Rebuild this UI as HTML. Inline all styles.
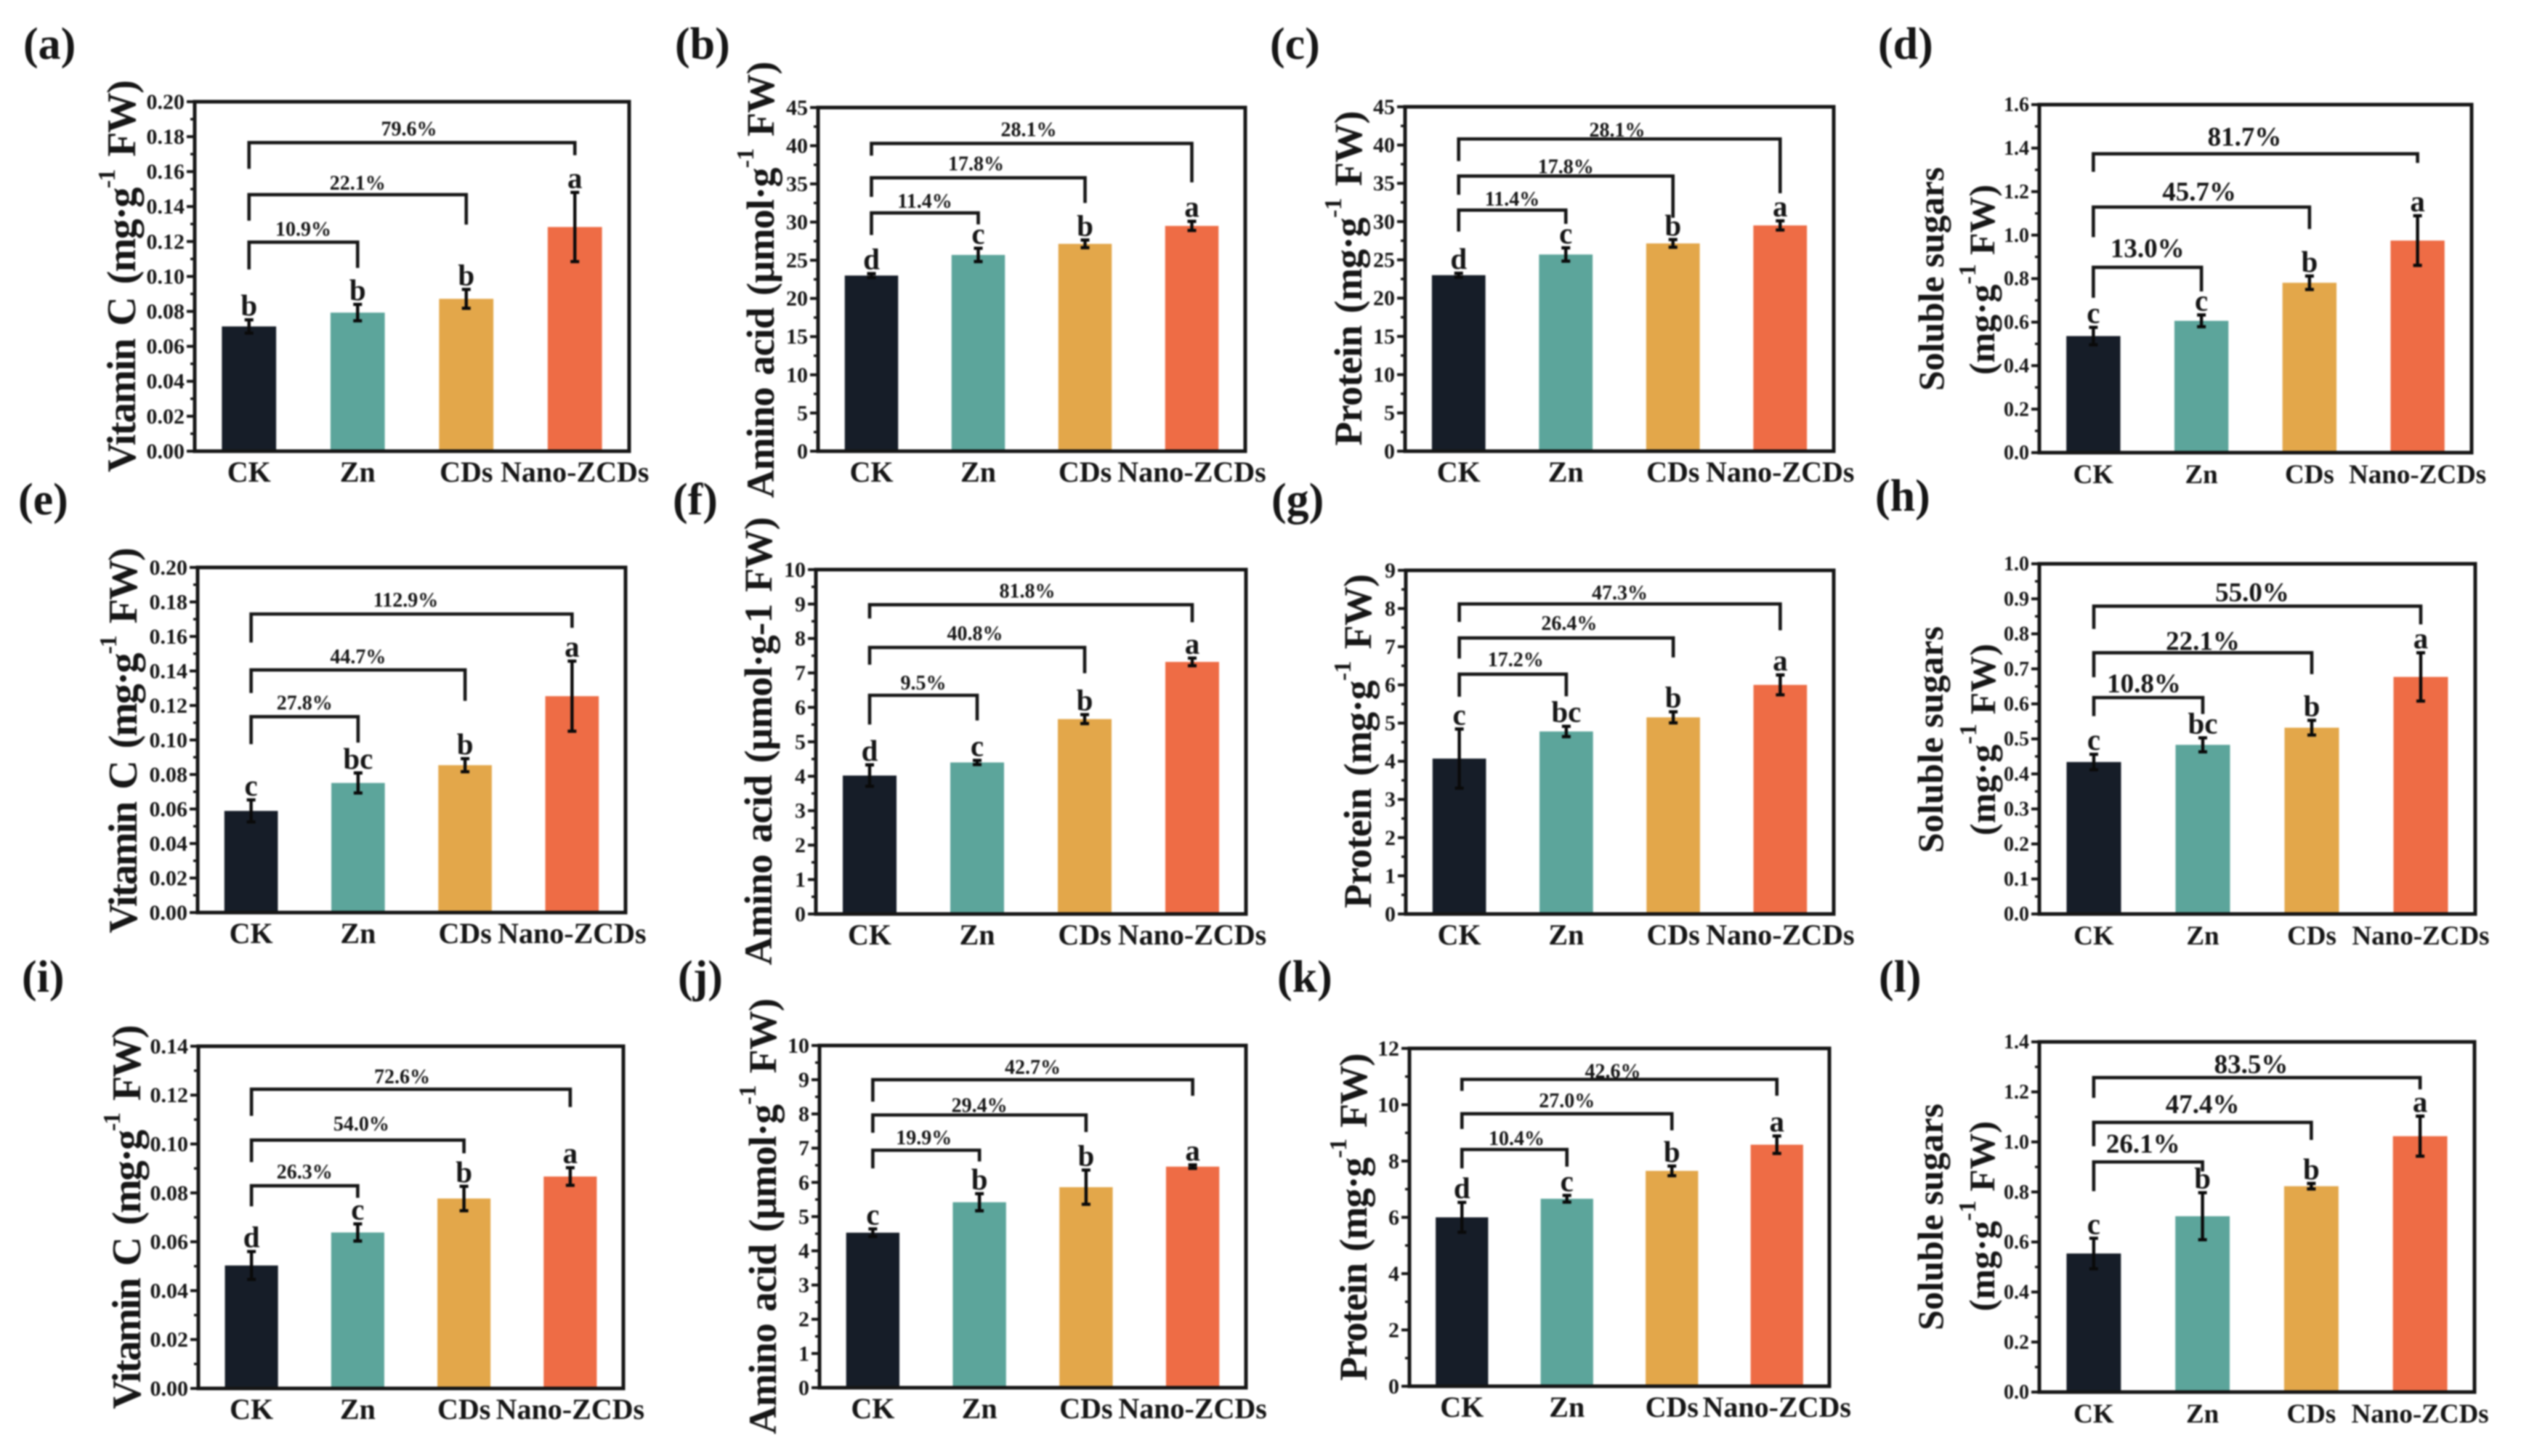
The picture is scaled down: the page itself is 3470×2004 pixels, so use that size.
<!DOCTYPE html>
<html lang="en">
<head>
<meta charset="utf-8">
<title>Vitamin C, amino acid, protein and soluble sugars</title>
<style>
html,body{margin:0;padding:0;background:#fff;width:3470px;height:2004px;overflow:hidden}
svg{display:block;filter:blur(1.1px)}
text{font-family:"Liberation Serif",serif;font-weight:bold;fill:#161616}
.panel-label{font-size:62px}
.t56{font-size:56px;word-spacing:6px}
.t54{font-size:54px;word-spacing:4px}
.t50{font-size:50px}
.sup{font-size:34px}
</style>
</head>
<body>
<svg id="figure" xmlns="http://www.w3.org/2000/svg" width="3470" height="2004" viewBox="0 0 3470 2004">
<rect width="3470" height="2004" fill="#fff"/>

<g id="panel-a">
<text class="panel-label" x="32" y="81">(a)</text>
<text class="t56" transform="translate(186,380) rotate(-90)" text-anchor="middle" textLength="540" lengthAdjust="spacing">Vitamin C (mg·g<tspan class="sup" dy="-28">-1</tspan><tspan dy="28"> FW)</tspan></text>
</g>
<g id="panel-b">
<text class="panel-label" x="929" y="81">(b)</text>
<text class="t54" transform="translate(1065,385) rotate(-90)" text-anchor="middle" textLength="601" lengthAdjust="spacing">Amino acid (µmol·g<tspan class="sup" dy="-28">-1</tspan><tspan dy="28"> FW)</tspan></text>
</g>
<g id="panel-c">
<text class="panel-label" x="1748" y="81">(c)</text>
<text class="t54" transform="translate(1874,383) rotate(-90)" text-anchor="middle" textLength="461" lengthAdjust="spacing">Protein (mg·g<tspan class="sup" dy="-28">-1</tspan><tspan dy="28"> FW)</tspan></text>
</g>
<g id="panel-d">
<text class="panel-label" x="2585" y="81">(d)</text>
<text class="t50" transform="translate(2675,384) rotate(-90)" text-anchor="middle" textLength="308" lengthAdjust="spacing">Soluble sugars</text>
<text class="t50" transform="translate(2745,385) rotate(-90)" text-anchor="middle" textLength="262" lengthAdjust="spacing">(mg·g<tspan class="sup" dy="-26">-1</tspan><tspan dy="26"> FW)</tspan></text>
</g>
<g id="panel-e">
<text class="panel-label" x="25" y="708">(e)</text>
<text class="t56" transform="translate(188,1019) rotate(-90)" text-anchor="middle" textLength="531" lengthAdjust="spacing">Vitamin C (mg·g<tspan class="sup" dy="-28">-1</tspan><tspan dy="28"> FW)</tspan></text>
</g>
<g id="panel-f">
<text class="panel-label" x="926" y="708">(f)</text>
<text class="t54" transform="translate(1062,1020) rotate(-90)" text-anchor="middle" textLength="617" lengthAdjust="spacing">Amino acid (µmol·g-1 FW)</text>
</g>
<g id="panel-g">
<text class="panel-label" x="1750" y="708">(g)</text>
<text class="t54" transform="translate(1887,1020) rotate(-90)" text-anchor="middle" textLength="460" lengthAdjust="spacing">Protein (mg·g<tspan class="sup" dy="-28">-1</tspan><tspan dy="28"> FW)</tspan></text>
</g>
<g id="panel-h">
<text class="panel-label" x="2581" y="703">(h)</text>
<text class="t50" transform="translate(2674,1018) rotate(-90)" text-anchor="middle" textLength="312" lengthAdjust="spacing">Soluble sugars</text>
<text class="t50" transform="translate(2746,1018) rotate(-90)" text-anchor="middle" textLength="264" lengthAdjust="spacing">(mg·g<tspan class="sup" dy="-26">-1</tspan><tspan dy="26"> FW)</tspan></text>
</g>
<g id="panel-i">
<text class="panel-label" x="30" y="1365">(i)</text>
<text class="t56" transform="translate(193,1675) rotate(-90)" text-anchor="middle" textLength="529" lengthAdjust="spacing">Vitamin C (mg·g<tspan class="sup" dy="-28">-1</tspan><tspan dy="28"> FW)</tspan></text>
</g>
<g id="panel-j">
<text class="panel-label" x="933" y="1365">(j)</text>
<text class="t54" transform="translate(1068,1674) rotate(-90)" text-anchor="middle" textLength="600" lengthAdjust="spacing">Amino acid (µmol·g<tspan class="sup" dy="-28">-1</tspan><tspan dy="28"> FW)</tspan></text>
</g>
<g id="panel-k">
<text class="panel-label" x="1758" y="1365">(k)</text>
<text class="t54" transform="translate(1881,1675) rotate(-90)" text-anchor="middle" textLength="451" lengthAdjust="spacing">Protein (mg·g<tspan class="sup" dy="-28">-1</tspan><tspan dy="28"> FW)</tspan></text>
</g>
<g id="panel-l">
<text class="panel-label" x="2586" y="1365">(l)</text>
<text class="t50" transform="translate(2674,1675) rotate(-90)" text-anchor="middle" textLength="312" lengthAdjust="spacing">Soluble sugars</text>
<text class="t50" transform="translate(2745,1674) rotate(-90)" text-anchor="middle" textLength="262" lengthAdjust="spacing">(mg·g<tspan class="sup" dy="-26">-1</tspan><tspan dy="26"> FW)</tspan></text>
</g>
</svg>

<script>
// ---- shared categories ----
const categories = ["CK", "Zn", "CDs", "Nano-ZCDs"];

// ---- panel (a) ----
const aTicks = ["0.00","0.02","0.04","0.06","0.08","0.10","0.12","0.14","0.16","0.18","0.20"];
const aValues = [0.0714, 0.0793, 0.0872, 0.1283];
const aErrors = [0.0038, 0.0047, 0.0054, 0.0198];
const aLetters = ["b","b","b","a"];
const aPercents = ["10.9%","22.1%","79.6%"];
const aBracketTop = [0.1196, 0.1468, 0.1766];
const aBracketLeft = [0.1040, 0.1319, 0.1616];
const aBracketRight = [0.1049, 0.1297, 0.1694];

// ---- panel (b) ----
const bTicks = ["0","5","10","15","20","25","30","35","40","45"];
const bValues = [23.0, 25.7, 27.15, 29.5];
const bErrors = [0.25, 0.87, 0.5, 0.6];
const bLetters = ["d","c","b","a"];
const bPercents = ["11.4%","17.8%","28.1%"];
const bBracketTop = [31.2, 35.8, 40.3];
const bBracketLeft = [28.3, 33.3, 38.7];
const bBracketRight = [29.7, 32.5, 35.2];

// ---- panel (c) ----
const cTicks = ["0","5","10","15","20","25","30","35","40","45"];
const cValues = [23.0, 25.7, 27.15, 29.5];
const cErrors = [0.25, 0.87, 0.5, 0.6];
const cLetters = ["d","c","b","a"];
const cPercents = ["11.4%","17.8%","28.1%"];
const cBracketTop = [31.5, 35.95, 40.8];
const cBracketLeft = [28.7, 33.5, 37.9];
const cBracketRight = [29.7, 30.5, 33.7];

// ---- panel (d) ----
const dTicks = ["0.0","0.2","0.4","0.6","0.8","1.0","1.2","1.4","1.6"];
const dValues = [0.536, 0.606, 0.781, 0.975];
const dErrors = [0.04, 0.027, 0.031, 0.114];
const dLetters = ["c","c","b","a"];
const dPercents = ["13.0%","45.7%","81.7%"];
const dBracketTop = [0.852, 1.129, 1.374];
const dBracketLeft = [0.712, 0.991, 1.291];
const dBracketRight = [0.741, 1.028, 1.332];

// ---- panel (e) ----
const eTicks = ["0.00","0.02","0.04","0.06","0.08","0.10","0.12","0.14","0.16","0.18","0.20"];
const eValues = [0.0589, 0.0751, 0.0854, 0.1254];
const eErrors = [0.0064, 0.0058, 0.0038, 0.0203];
const eLetters = ["c","bc","b","a"];
const ePercents = ["27.8%","44.7%","112.9%"];
const eBracketTop = [0.1135, 0.1406, 0.173];
const eBracketLeft = [0.0976, 0.1272, 0.1565];
const eBracketRight = [0.0985, 0.1227, 0.165];

// ---- panel (f) ----
const fTicks = ["0","1","2","3","4","5","6","7","8","9","10"];
const fValues = [4.02, 4.40, 5.66, 7.32];
const fErrors = [0.31, 0.06, 0.13, 0.11];
const fLetters = ["d","c","b","a"];
const fPercents = ["9.5%","40.8%","81.8%"];
const fBracketTop = [6.35, 7.74, 8.98];
const fBracketLeft = [5.50, 7.24, 8.58];
const fBracketRight = [5.62, 6.99, 8.47];

// ---- panel (g) ----
const gTicks = ["0","1","2","3","4","5","6","7","8","9"];
const gValues = [4.07, 4.78, 5.15, 6.0];
const gErrors = [0.775, 0.135, 0.145, 0.26];
const gLetters = ["c","bc","b","a"];
const gPercents = ["17.2%","26.4%","47.3%"];
const gBracketTop = [6.28, 7.23, 8.12];
const gBracketLeft = [5.69, 6.69, 7.65];
const gBracketRight = [5.70, 6.72, 7.43];

// ---- panel (h) ----
const hTicks = ["0.0","0.1","0.2","0.3","0.4","0.5","0.6","0.7","0.8","0.9","1.0"];
const hValues = [0.434, 0.483, 0.532, 0.677];
const hErrors = [0.022, 0.02, 0.021, 0.069];
const hLetters = ["c","bc","b","a"];
const hPercents = ["10.8%","22.1%","55.0%"];
const hBracketTop = [0.618, 0.746, 0.879];
const hBracketLeft = [0.565, 0.676, 0.814];
const hBracketRight = [0.571, 0.685, 0.827];

// ---- panel (i) ----
const iTicks = ["0.00","0.02","0.04","0.06","0.08","0.10","0.12","0.14"];
const iValues = [0.0503, 0.0638, 0.0777, 0.0867];
const iErrors = [0.0057, 0.0035, 0.005, 0.0036];
const iLetters = ["d","c","b","a"];
const iPercents = ["26.3%","54.0%","72.6%"];
const iBracketTop = [0.0829, 0.1016, 0.1224];
const iBracketLeft = [0.0745, 0.0926, 0.1115];
const iBracketRight = [0.078, 0.0962, 0.1151];

// ---- panel (j) ----
const jTicks = ["0","1","2","3","4","5","6","7","8","9","10"];
const jValues = [4.53, 5.42, 5.86, 6.46];
const jErrors = [0.11, 0.25, 0.5, 0.05];
const jLetters = ["c","b","b","a"];
const jPercents = ["19.9%","29.4%","42.7%"];
const jBracketTop = [6.94, 7.97, 9.0];
const jBracketLeft = [6.41, 7.45, 8.36];
const jBracketRight = [6.61, 7.47, 8.53];

// ---- panel (k) ----
const kTicks = ["0","2","4","6","8","10","12"];
const kValues = [6.0, 6.66, 7.65, 8.58];
const kErrors = [0.53, 0.12, 0.17, 0.31];
const kLetters = ["d","c","b","a"];
const kPercents = ["10.4%","27.0%","42.6%"];
const kBracketTop = [8.41, 9.68, 10.9];
const kBracketLeft = [7.74, 9.14, 10.49];
const kBracketRight = [7.8, 9.09, 10.32];

// ---- panel (l) ----
const lTicks = ["0.0","0.2","0.4","0.6","0.8","1.0","1.2","1.4"];
const lValues = [0.554, 0.703, 0.823, 1.023];
const lErrors = [0.061, 0.094, 0.011, 0.08];
const lLetters = ["c","b","b","a"];
const lPercents = ["26.1%","47.4%","83.5%"];
const lBracketTop = [0.92, 1.078, 1.257];
const lBracketLeft = [0.803, 0.983, 1.176];
const lBracketRight = [0.882, 1.008, 1.21];

// ---- colours ----
const barColors = ["#161d28", "#5ca59b", "#e3a74a", "#ee6c45"];

// ---- layout (frame in px, font sizes, label nudges) ----
const panels = [
 {id:"a",l:268,r:866,t:140,b:621,tick:30,x:40,pct:28,gap:[9,7,10],dx:[0,0,-4],ticks:aTicks,values:aValues,errors:aErrors,letters:aLetters,percents:aPercents,top:aBracketTop,left:aBracketLeft,right:aBracketRight},
 {id:"b",l:1126,r:1714,t:148,b:621,tick:30,x:40,pct:28,gap:[7,10,10],dx:[0,-3,-4],ticks:bTicks,values:bValues,errors:bErrors,letters:bLetters,percents:bPercents,top:bBracketTop,left:bBracketLeft,right:bBracketRight},
 {id:"c",l:1934,r:2524,t:147,b:621,tick:30,x:40,pct:28,gap:[6,4,3],dx:[0,0,-3],ticks:cTicks,values:cValues,errors:cErrors,letters:cLetters,percents:cPercents,top:cBracketTop,left:cBracketLeft,right:cBracketRight},
 {id:"d",l:2807,r:3402,t:144,b:623,tick:28,x:37,pct:37,gap:[14,9,11],dx:[0,-3,-15],ticks:dTicks,values:dValues,errors:dErrors,letters:dLetters,percents:dPercents,top:dBracketTop,left:dBracketLeft,right:dBracketRight},
 {id:"e",l:272,r:861,t:781,b:1256,tick:30,x:40,pct:28,gap:[10,9,10],dx:[0,0,-8],ticks:eTicks,values:eValues,errors:eErrors,letters:eLetters,percents:ePercents,top:eBracketTop,left:eBracketLeft,right:eBracketRight},
 {id:"f",l:1123,r:1715,t:784,b:1258,tick:30,x:40,pct:28,gap:[8,10,10],dx:[0,-3,-5],ticks:fTicks,values:fValues,errors:fErrors,letters:fLetters,percents:fPercents,top:fBracketTop,left:fBracketLeft,right:fBracketRight},
 {id:"g",l:1935,r:2524,t:785,b:1258,tick:30,x:40,pct:28,gap:[11,11,6],dx:[4,4,0],ticks:gTicks,values:gValues,errors:gErrors,letters:gLetters,percents:gPercents,top:gBracketTop,left:gBracketLeft,right:gBracketRight},
 {id:"h",l:2807,r:3407,t:776,b:1258,tick:28,x:37,pct:37,gap:[7,4,7],dx:[-6,0,-7],ticks:hTicks,values:hValues,errors:hErrors,letters:hLetters,percents:hPercents,top:hBracketTop,left:hBracketLeft,right:hBracketRight},
 {id:"i",l:273,r:858,t:1440,b:1911,tick:30,x:40,pct:28,gap:[10,13,8],dx:[0,5,-12],ticks:iTicks,values:iValues,errors:iErrors,letters:iLetters,percents:iPercents,top:iBracketTop,left:iBracketLeft,right:iBracketRight},
 {id:"j",l:1128,r:1715,t:1439,b:1910,tick:30,x:40,pct:28,gap:[8,4,8],dx:[-3,0,0],ticks:jTicks,values:jValues,errors:jErrors,letters:jLetters,percents:jPercents,top:jBracketTop,left:jBracketLeft,right:jBracketRight},
 {id:"k",l:1940,r:2518,t:1443,b:1908,tick:30,x:40,pct:28,gap:[6,9,2],dx:[3,0,-9],ticks:kTicks,values:kValues,errors:kErrors,letters:kLetters,percents:kPercents,top:kBracketTop,left:kBracketLeft,right:kBracketRight},
 {id:"l",l:2807,r:3406,t:1434,b:1916,tick:28,x:37,pct:37,gap:[13,13,6],dx:[-7,0,-8],ticks:lTicks,values:lValues,errors:lErrors,letters:lLetters,percents:lPercents,top:lBracketTop,left:lBracketLeft,right:lBracketRight}
];

const NS = "http://www.w3.org/2000/svg";
const INK = "#161616";

function make(tag, attrs, parent) {
  const el = document.createElementNS(NS, tag);
  for (const k in attrs) el.setAttribute(k, attrs[k]);
  parent.appendChild(el);
  return el;
}

function drawPanel(p) {
  const g = document.getElementById("panel-" + p.id);
  const tickNums = p.ticks.map(Number);
  const yMax = tickNums[tickNums.length - 1];
  const yScale = function (v) { return p.b - (v / yMax) * (p.b - p.t); };
  const band = (p.r - p.l) / categories.length;
  const xScale = function (i) { return p.l + band * (i + 0.5); };
  const barW = band * 0.5;

  // bars
  p.values.forEach(function (v, i) {
    const bar = make("rect", {x: xScale(i) - barW / 2, y: yScale(v), width: barW, height: p.b - yScale(v), fill: barColors[i]}, g);
    
    
  });

  // error bars
  p.errors.forEach(function (e, i) {
    const cx = xScale(i), hi = yScale(p.values[i] + e), lo = yScale(p.values[i] - e);
    const err = make("path", {d: "M" + (cx - 6) + " " + hi + "H" + (cx + 6) + "M" + cx + " " + hi + "V" + lo + "M" + (cx - 6) + " " + lo + "H" + (cx + 6), stroke: "#0a0a0a", "stroke-width": 4.4, fill: "none"}, g);
    
    
  });

  // significance letters
  p.letters.forEach(function (s, i) {
    const letter = make("text", {x: xScale(i), y: yScale(p.values[i] + p.errors[i]) - 6, "text-anchor": "middle", "font-size": 41}, g);
    letter.textContent = s;
    
    
  });

  // comparison brackets
  p.percents.forEach(function (txt, i) {
    const x0 = xScale(0), x1 = xScale(i + 1), yTop = yScale(p.top[i]);
    const br = make("path", {d: "M" + x0 + " " + yScale(p.left[i]) + "V" + yTop + "H" + x1 + "V" + yScale(p.right[i]), stroke: INK, "stroke-width": 4.6, fill: "none"}, g);
    
    
    const lab = make("text", {x: (x0 + x1) / 2 + p.dx[i], y: yTop - p.gap[i], "text-anchor": "middle", "font-size": p.pct}, g);
    lab.textContent = txt;
    
    
  });

  // y ticks
  tickNums.forEach(function (v, i) {
    const y = yScale(v);
    const tick = make("line", {x1: p.l - 11, x2: p.l, y1: y, y2: y, stroke: INK, "stroke-width": 4}, g);
    
    
    const lab = make("text", {x: p.l - 14, y: y + p.tick * 0.33, "text-anchor": "end", "font-size": p.tick}, g);
    lab.textContent = p.ticks[i];
    
    
    if (i < tickNums.length - 1) {
      const ym = yScale((v + tickNums[i + 1]) / 2);
      const minor = make("line", {x1: p.l - 6, x2: p.l, y1: ym, y2: ym, stroke: INK, "stroke-width": 3.4}, g);
      
      
    }
  });

  // x category labels
  categories.forEach(function (c, i) {
    const lab = make("text", {x: xScale(i), y: p.b + 42, "text-anchor": "middle", "font-size": p.x}, g);
    lab.textContent = c;
    
    
  });

  // plot frame
  const frame = make("rect", {x: p.l, y: p.t, width: p.r - p.l, height: p.b - p.t, fill: "none", stroke: INK, "stroke-width": 5}, g);
  
  
}

panels.forEach(drawPanel);
</script>
</body>
</html>
